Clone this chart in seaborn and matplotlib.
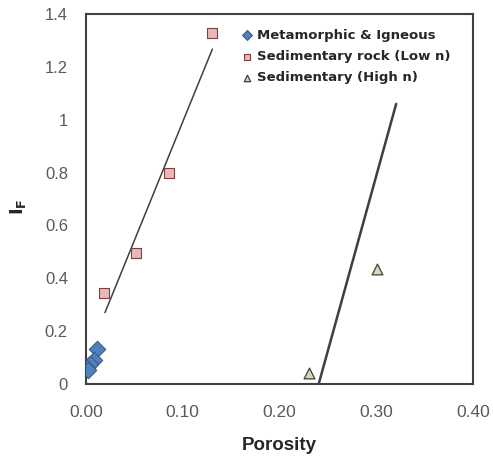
import matplotlib
matplotlib.use("Agg")
import matplotlib.pyplot as plt
import seaborn as sns
import pandas as pd

# Data
meta_x = [0.011, 0.0085, 0.004, 0.0015, 0.0025]
meta_y = [0.132, 0.091, 0.074, 0.062, 0.053]

low_x = [0.0186, 0.0515, 0.0859, 0.1306]
low_y = [0.344, 0.496, 0.800, 1.329]

high_x = [0.2302, 0.3003]
high_y = [0.043, 0.435]

low_line_x = [0.0196, 0.1306]
low_line_y = [0.270, 1.267]

high_line_x = [0.2405, 0.3206]
high_line_y = [0.0, 1.060]

x_ticks = [0.0, 0.1, 0.2, 0.3, 0.4]
x_tick_labels = ["0.00", "0.10", "0.20", "0.30", "0.40"]
y_ticks = [0, 0.2, 0.4, 0.6, 0.8, 1.0, 1.2, 1.4]
y_tick_labels = ["0", "0.2", "0.4", "0.6", "0.8", "1", "1.2", "1.4"]

labels = ["Metamorphic & Igneous", "Sedimentary rock (Low n)", "Sedimentary (High n)"]

sns.set_theme(style="white")
plt.rcParams["font.family"] = ["Liberation Sans", "DejaVu Sans"]

fig = plt.figure(figsize=(4.93, 4.57), dpi=100)
ax = fig.add_axes([86 / 493, (457 - 384) / 457, (473 - 86) / 493, (384 - 14) / 457])

line_col = "#3f3f3f"
sns.lineplot(x=low_line_x, y=low_line_y, ax=ax, color=line_col, lw=1.1, legend=False)
sns.lineplot(x=high_line_x, y=high_line_y, ax=ax, color=line_col, lw=1.8, legend=False)

sns.scatterplot(x=meta_x, y=meta_y, ax=ax, marker="D", s=70, color="#4F81BD",
                edgecolor="#385D8A", linewidth=0.8, label=labels[0], zorder=3)
sns.scatterplot(x=low_x, y=low_y, ax=ax, marker="s", s=50, color="#E6B9B8",
                edgecolor="#7f3f3f", linewidth=0.8, label=labels[1], zorder=3)
sns.scatterplot(x=high_x, y=high_y, ax=ax, marker="^", s=60, color="#D4D9B4",
                edgecolor="#3f3f3f", linewidth=0.9, label=labels[2], zorder=3)

ax.set_xlim(0, 0.4)
ax.set_ylim(0, 1.4)
ax.set_xticks(x_ticks)
ax.set_xticklabels(x_tick_labels)
ax.set_yticks(y_ticks)
ax.set_yticklabels(y_tick_labels)
ax.tick_params(axis="x", length=0, labelsize=12.5, labelcolor="#5a5a5a", pad=15)
ax.tick_params(axis="y", length=0, labelsize=12, labelcolor="#5a5a5a", pad=13)

for s in ax.spines.values():
    s.set_color("#404040")
    s.set_linewidth(1.5)

ax.set_xlabel("Porosity", fontsize=13.5, fontweight="bold", labelpad=12)
ax.set_ylabel(r"$\mathbf{I}_{\mathbf{F}}$", fontsize=13, rotation=90)
ax.yaxis.set_label_coords(-0.15, 0.48)

leg = ax.legend(loc="upper left", bbox_to_anchor=(0.40, 0.96), frameon=False,
                prop={"family": "DejaVu Sans", "weight": "bold", "size": 9.5},
                handletextpad=0.2, handlelength=1.0,
                labelspacing=0.62, markerscale=0.6, borderaxespad=0.0, borderpad=0.0)

fig.savefig("out.png", dpi=100)
